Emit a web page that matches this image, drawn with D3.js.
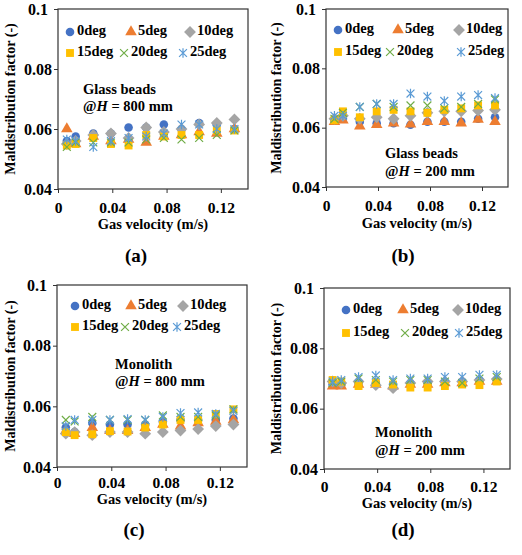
<!DOCTYPE html>
<html>
<head>
<meta charset="utf-8">
<script src="https://cdn.jsdelivr.net/npm/d3@7"></script>
<style>
  body { margin: 0; background: #fff; }
  svg text { font-family: "Liberation Serif", "Times New Roman", serif; font-weight: bold; fill: #000; }
</style>
</head>
<body>
<svg id="canvas" width="522" height="555"></svg>
<script>
// data
const angles = ["0deg", "5deg", "10deg", "15deg", "20deg", "25deg"];
const velocity = [0.0065, 0.013, 0.026, 0.039, 0.052, 0.065, 0.078, 0.091, 0.104, 0.117, 0.13];
const xTicks = [0, 0.04, 0.08, 0.12];
const yTicks = [0.04, 0.06, 0.08, 0.1];

// glass beads, H = 800 mm
const gb800 = [
  [0.056, 0.0575, 0.0585, 0.0585, 0.0605, 0.0605, 0.0615, 0.060, 0.062, 0.0615, 0.060],
  [0.060, 0.055, 0.0575, 0.056, 0.0565, 0.0555, 0.0575, 0.058, 0.059, 0.0585, 0.060],
  [0.055, 0.056, 0.058, 0.0585, 0.057, 0.0605, 0.059, 0.060, 0.0615, 0.062, 0.0632],
  [0.0545, 0.055, 0.057, 0.055, 0.0545, 0.058, 0.0575, 0.058, 0.058, 0.0595, 0.0595],
  [0.054, 0.0555, 0.0555, 0.0555, 0.0555, 0.0565, 0.057, 0.0565, 0.057, 0.058, 0.0595],
  [0.0565, 0.056, 0.054, 0.056, 0.057, 0.0575, 0.0585, 0.0615, 0.0615, 0.060, 0.060]
];
// glass beads, H = 200 mm
const gb200 = [
  [0.0625, 0.063, 0.062, 0.0615, 0.0615, 0.061, 0.062, 0.062, 0.062, 0.063, 0.0635],
  [0.062, 0.0625, 0.0605, 0.061, 0.0615, 0.0612, 0.062, 0.062, 0.0615, 0.0628, 0.062],
  [0.063, 0.064, 0.063, 0.0635, 0.063, 0.064, 0.065, 0.0655, 0.0655, 0.0658, 0.066],
  [0.0625, 0.0655, 0.0635, 0.0655, 0.066, 0.0655, 0.065, 0.066, 0.0665, 0.0675, 0.0675],
  [0.063, 0.065, 0.067, 0.068, 0.067, 0.0675, 0.0675, 0.0665, 0.067, 0.068, 0.0695],
  [0.064, 0.064, 0.067, 0.068, 0.068, 0.0715, 0.0705, 0.069, 0.0705, 0.071, 0.070]
];
// monolith, H = 800 mm
const mono800 = [
  [0.053, 0.0515, 0.0545, 0.054, 0.054, 0.054, 0.055, 0.0555, 0.0555, 0.0555, 0.056],
  [0.052, 0.051, 0.053, 0.052, 0.052, 0.053, 0.054, 0.0535, 0.0545, 0.055, 0.0555],
  [0.051, 0.0515, 0.0505, 0.0515, 0.0515, 0.051, 0.0515, 0.052, 0.0525, 0.0535, 0.054],
  [0.0515, 0.0505, 0.0508, 0.0518, 0.0517, 0.053, 0.054, 0.0555, 0.0555, 0.0575, 0.059],
  [0.0555, 0.055, 0.0565, 0.0555, 0.0555, 0.0555, 0.057, 0.0565, 0.0565, 0.057, 0.059],
  [0.0535, 0.0555, 0.0555, 0.0555, 0.0558, 0.0555, 0.0565, 0.0578, 0.058, 0.0575, 0.0585]
];
// monolith, H = 200 mm
const mono200 = [
  [0.068, 0.068, 0.0685, 0.0685, 0.068, 0.0685, 0.0685, 0.069, 0.069, 0.069, 0.0695],
  [0.0675, 0.0675, 0.068, 0.068, 0.0675, 0.068, 0.068, 0.0685, 0.0685, 0.069, 0.069],
  [0.069, 0.0685, 0.069, 0.0678, 0.0668, 0.0685, 0.069, 0.069, 0.069, 0.0695, 0.0698],
  [0.0695, 0.069, 0.0675, 0.0685, 0.068, 0.067, 0.067, 0.0675, 0.068, 0.0678, 0.069],
  [0.0685, 0.069, 0.070, 0.0695, 0.069, 0.0695, 0.0695, 0.069, 0.0685, 0.070, 0.0705],
  [0.069, 0.0695, 0.0705, 0.071, 0.0695, 0.070, 0.070, 0.0705, 0.0705, 0.0712, 0.0712]
];

const colors = ["#4472C4", "#ED7D31", "#A5A5A5", "#FFC000", "#70AD47", "#5B9BD5"];

// excel-like markers
const diamond = {
  draw(ctx, size) {
    const r = Math.sqrt(size / 2);
    ctx.moveTo(0, -r); ctx.lineTo(r, 0); ctx.lineTo(0, r); ctx.lineTo(-r, 0); ctx.closePath();
  }
};
const times = {
  draw(ctx, size) {
    const r = Math.sqrt(size) / 2;
    ctx.moveTo(-r, -r); ctx.lineTo(r, r);
    ctx.moveTo(-r, r); ctx.lineTo(r, -r);
  }
};
const star = {
  draw(ctx, size) {
    const r = Math.sqrt(size) / 2;
    ctx.moveTo(-r, -r); ctx.lineTo(r, r);
    ctx.moveTo(-r, r); ctx.lineTo(r, -r);
    ctx.moveTo(0, -r * 1.2); ctx.lineTo(0, r * 1.2);
  }
};
const markers = [
  { type: d3.symbolCircle, size: 58, fill: true },
  { type: d3.symbolTriangle, size: 58, fill: true },
  { type: diamond, size: 70, fill: true },
  { type: d3.symbolSquare, size: 62, fill: true },
  { type: times, size: 62, fill: false },
  { type: star, size: 62, fill: false }
];

const panels = [
  { data: gb800, note: ["Glass beads", "800"], left: 58, right: 248, top: 9, bottom: 189, xPad: 9,
    noteX: 83, noteY: [91, 108], legY: [32, 53], legX: [[70, 131, 190], [70, 124, 183]],
    xTitleY: 226, yTitleX: 12, label: "(a)", labelX: 136, labelY: 258 },
  { data: gb200, note: ["Glass beads", "200"], left: 326, right: 508, top: 9, bottom: 187, xPad: 9,
    noteX: 385, noteY: [155, 173], legY: [30, 52], legX: [[338, 398, 459], [338, 390, 461]],
    xTitleY: 225, yTitleX: 278, label: "(b)", labelX: 403, labelY: 258 },
  { data: mono800, note: ["Monolith", "800"], left: 57, right: 247, top: 285, bottom: 467, xPad: 6,
    noteX: 115, noteY: [366, 383], legY: [306, 327], legX: [[75, 131, 183], [75, 125, 177]],
    xTitleY: 501, yTitleX: 12, label: "(c)", labelX: 134, labelY: 532 },
  { data: mono200, note: ["Monolith", "200"], left: 324, right: 510, top: 288, bottom: 469, xPad: 8,
    noteX: 375, noteY: [434, 452], legY: [310, 333], legX: [[346, 403, 458], [346, 405, 459]],
    xTitleY: 505, yTitleX: 278, label: "(d)", labelX: 403, labelY: 532 }
];

const svg = d3.select("#canvas");

const drawPanel = (p) => {
  const g = svg.append("g");
  const x = d3.scaleLinear().domain([0, 0.14]).range([p.left, p.right]);
  const y = d3.scaleLinear().domain([0.04, 0.1]).range([p.bottom, p.top]);

  // x axis
  const xa = g.append("g")
    .attr("transform", `translate(0,${p.bottom})`)
    .call(d3.axisBottom(x).tickValues(xTicks).tickSize(4).tickPadding(p.xPad).tickFormat(d3.format("~g")));
  xa.select(".domain").remove();
  xa.selectAll("line").attr("stroke", "#333");
  xa.selectAll("text").style("font-size", "15.5px");

  // y axis
  const ya = g.append("g")
    .attr("transform", `translate(${p.left},0)`)
    .call(d3.axisLeft(y).tickValues(yTicks).tickSize(4).tickFormat(d3.format("~g")));
  ya.select(".domain").remove();
  ya.selectAll("line").attr("stroke", "#333");
  ya.selectAll("text")
    .attr("x", -20)
    .attr("text-anchor", "middle")
    .style("font-size", "16px");

  // plot frame
  g.append("rect")
    .attr("x", p.left).attr("y", p.top)
    .attr("width", p.right - p.left).attr("height", p.bottom - p.top)
    .attr("fill", "none").attr("stroke", "#333").attr("stroke-width", 1.2);

  // axis titles
  g.append("text")
    .attr("x", (p.left + p.right) / 2).attr("y", p.xTitleY)
    .attr("text-anchor", "middle").attr("dominant-baseline", "middle")
    .style("font-size", "14.5px")
    .text("Gas velocity (m/s)");
  g.append("text")
    .attr("transform", `translate(${p.yTitleX},${(p.top + p.bottom) / 2}) rotate(-90)`)
    .attr("text-anchor", "middle").attr("dominant-baseline", "middle")
    .style("font-size", "14px")
    .text("Maldistribution factor (-)");

  // note
  g.append("text")
    .attr("x", p.noteX).attr("y", p.noteY[0])
    .attr("dominant-baseline", "middle")
    .style("font-size", "14.5px")
    .text(p.note[0]);
  const n2 = g.append("text")
    .attr("x", p.noteX).attr("y", p.noteY[1])
    .attr("dominant-baseline", "middle")
    .style("font-size", "14.5px");
  n2.append("tspan").text("@");
  n2.append("tspan").style("font-style", "italic").text("H");
  n2.append("tspan").text(" = " + p.note[1] + " mm");

  // series
  p.data.forEach((vals, s) => {
    const m = markers[s];
    const sym = d3.symbol().type(m.type).size(m.size);
    g.append("g")
      .selectAll("path")
      .data(vals)
      .enter()
      .append("path")
      .attr("d", sym)
      .attr("transform", (d, i) => `translate(${x(velocity[i])},${y(d)})`)
      .attr("fill", m.fill ? colors[s] : "none")
      .attr("stroke", m.fill ? "none" : colors[s])
      .attr("stroke-width", m.fill ? 0 : 1.2);
  });

  // legend
  angles.forEach((name, s) => {
    const row = Math.floor(s / 3);
    const col = s % 3;
    const mx = p.legX[row][col];
    const my = p.legY[row];
    const m = markers[s];
    g.append("path")
      .attr("d", d3.symbol().type(m.type).size(m.size)())
      .attr("transform", `translate(${mx},${my})`)
      .attr("fill", m.fill ? colors[s] : "none")
      .attr("stroke", m.fill ? "none" : colors[s])
      .attr("stroke-width", m.fill ? 0 : 1.2);
    g.append("text")
      .attr("x", mx + 7).attr("y", my)
      .attr("dominant-baseline", "middle")
      .style("font-size", "14.5px")
      .text(name);
  });

  // panel label
  svg.append("text")
    .attr("x", p.labelX).attr("y", p.labelY)
    .attr("text-anchor", "middle").attr("dominant-baseline", "middle")
    .style("font-size", "19px")
    .text(p.label);
};

panels.forEach(drawPanel);
</script>
</body>
</html>
